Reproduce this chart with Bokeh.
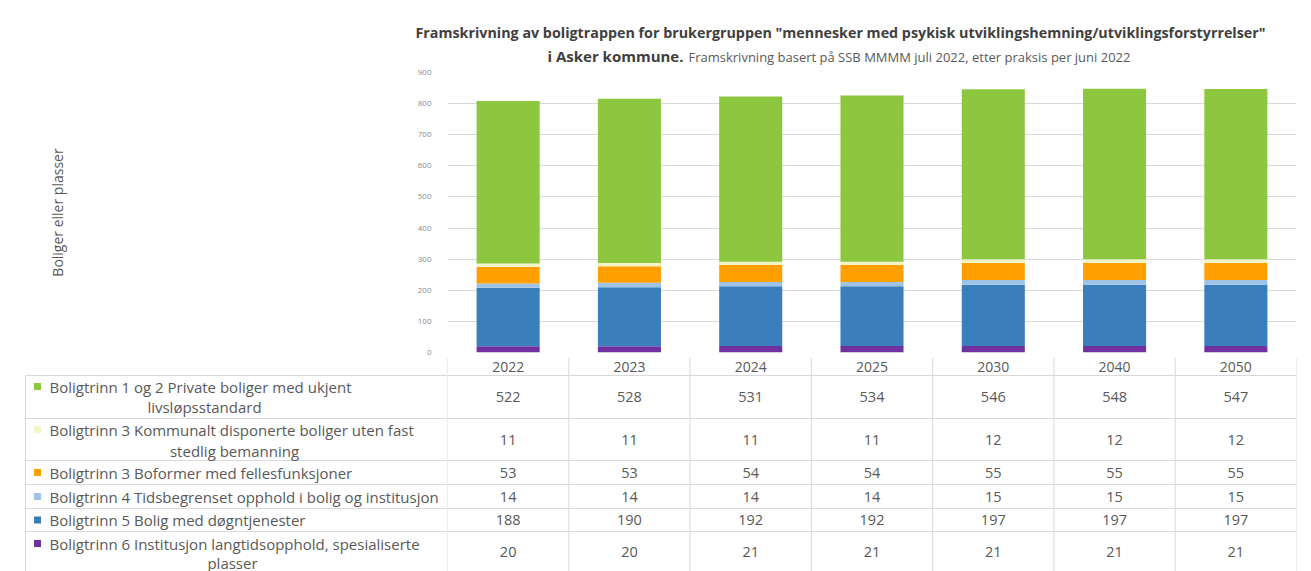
from bokeh.plotting import figure
from bokeh.layouts import column, row
from bokeh.models import FactorRange, Range1d, ColumnDataSource, SingleIntervalTicker
from bokeh.core.properties import value
from bokeh.embed import file_html
from bokeh.resources import INLINE

# ---------------- data ----------------
years = ["2022", "2023", "2024", "2025", "2030", "2040", "2050"]
trinn_1_2 = [522, 528, 531, 534, 546, 548, 547]
trinn_3_kommunalt = [11, 11, 11, 11, 12, 12, 12]
trinn_3_boformer = [53, 53, 54, 54, 55, 55, 55]
trinn_4 = [14, 14, 14, 14, 15, 15, 15]
trinn_5 = [188, 190, 192, 192, 197, 197, 197]
trinn_6 = [20, 20, 21, 21, 21, 21, 21]

series_names = [
    "Boligtrinn 1 og 2 Private boliger med ukjent\nlivsløpsstandard",
    "Boligtrinn 3 Kommunalt disponerte boliger uten fast\nstedlig bemanning",
    "Boligtrinn 3 Boformer med fellesfunksjoner",
    "Boligtrinn 4 Tidsbegrenset opphold i bolig og institusjon",
    "Boligtrinn 5 Bolig med døgntjenester",
    "Boligtrinn 6 Institusjon langtidsopphold, spesialiserte\nplasser",
]
series_values = [trinn_1_2, trinn_3_kommunalt, trinn_3_boformer, trinn_4, trinn_5, trinn_6]
series_colors = ["#8DC63F", "#F3F5C9", "#FFA000", "#9DC3E6", "#3A7EBB", "#7030A0"]

title_line1 = 'Framskrivning av boligtrappen for brukergruppen "mennesker med psykisk utviklingshemning/utviklingsforstyrrelser"'
title_line2_bold = "i Asker kommune."
title_line2_rest = "Framskrivning basert på SSB MMMM juli 2022, etter praksis per juni 2022"
y_label = "Boliger eller plasser"

# ---------------- style ----------------
FONT = "Open Sans"
TXT = "#595959"
GRID = "#d9d9d9"
W = 1303
LEFT = 447
RIGHT_PAD = 7

def bare(fig):
    fig.outline_line_color = None
    fig.grid.visible = False
    return fig

# ---------------- title strip ----------------
TH = 66
tfig = bare(figure(width=W, height=TH, x_range=Range1d(0, W), y_range=Range1d(TH, 0),
                   output_backend="svg", toolbar_location=None,
                   x_axis_location=None, y_axis_location=None, min_border=0))
tfig.text(x=[840], y=[32], text=[title_line1], text_align="center", text_baseline="middle",
          text_font=value(FONT), text_font_style="bold", text_font_size="14.3px",
          text_color="#404040")
tfig.text(x=[683], y=[55], text=[title_line2_bold], text_align="right", text_baseline="middle",
          text_font=value(FONT), text_font_style="bold", text_font_size="15px",
          text_color="#404040")
tfig.text(x=[688], y=[56], text=[title_line2_rest], text_align="left", text_baseline="middle",
          text_font=value(FONT), text_font_size="13px", text_color=TXT)

# ---------------- bar chart ----------------
keys = ["s%d" % i for i in range(len(series_values))]
src = ColumnDataSource(dict(years=years, **{k: v for k, v in zip(keys, series_values)}))

xr = FactorRange(*years, range_padding=0)
p = figure(width=W, height=291, x_range=xr, y_range=Range1d(0, 900),
           output_backend="svg", toolbar_location=None, x_axis_location=None,
           min_border_left=LEFT, min_border_right=RIGHT_PAD, min_border_top=6, min_border_bottom=5)
p.outline_line_color = None
p.xgrid.grid_line_color = None
p.ygrid.grid_line_color = GRID
p.ygrid.ticker = SingleIntervalTicker(interval=100, num_minor_ticks=0)
ax = p.yaxis[0]
ax.ticker = SingleIntervalTicker(interval=100, num_minor_ticks=0)
ax.axis_line_color = None
ax.major_tick_line_color = None
ax.minor_tick_line_color = None
ax.major_label_standoff = 10
ax.major_label_text_font = FONT
ax.major_label_text_font_size = "8px"
ax.major_label_text_color = "#8a8a8a"
ax.axis_label = y_label
ax.axis_label_standoff = 348
ax.axis_label_text_font = FONT
ax.axis_label_text_font_style = "normal"
ax.axis_label_text_font_size = "14px"
ax.axis_label_text_color = TXT

# stack bottom (trinn 6) to top (trinn 1 og 2)
p.vbar_stack(keys[::-1], x="years", width=0.52, source=src,
             fill_color=series_colors[::-1], line_color=None)

# ---------------- data table ----------------
row_heights = [18, 43, 42, 24, 24, 23, 40]
edges = [0]
for h in row_heights:
    edges.append(edges[-1] + h)
H = edges[-1]
row_centers = [(edges[i] + edges[i + 1]) / 2 for i in range(len(row_heights))]

# legend column
leg = bare(figure(width=LEFT, height=H, x_range=Range1d(0, LEFT), y_range=Range1d(H, 0),
                  output_backend="svg", toolbar_location=None,
                  x_axis_location=None, y_axis_location=None, min_border=0))
leg.segment(x0=25, x1=LEFT, y0=edges[1:], y1=edges[1:], line_color=GRID, line_width=1)
leg.segment(x0=25, x1=25, y0=edges[1], y1=H, line_color=GRID, line_width=1)

line1_y = [29, 72, 115, 139, 162.5, 186]
line2_y = [49, 93, None, None, None, 205]
line2_x = [204, 234, None, None, None, 232]
first_lines, l2_text, l2_x, l2_y = [], [], [], []
for i, name in enumerate(series_names):
    parts = name.split("\n")
    first_lines.append(parts[0])
    if len(parts) > 1:
        l2_text.append(parts[1]); l2_x.append(line2_x[i]); l2_y.append(line2_y[i])

leg.scatter(x=[37] * len(series_names), y=line1_y, marker="square", size=7,
            fill_color=series_colors, line_color=None)
leg.text(x=[49] * len(series_names), y=line1_y, text=first_lines,
         text_font=value(FONT), text_font_size="15px", text_color=TXT,
         text_baseline="middle", text_align="left")
leg.text(x=l2_x, y=l2_y, text=l2_text,
         text_font=value(FONT), text_font_size="15px", text_color=TXT,
         text_baseline="middle", text_align="center")

# values columns
vals = bare(figure(width=W - LEFT, height=H, x_range=xr, y_range=Range1d(H, 0),
                   output_backend="svg", toolbar_location=None,
                   x_axis_location=None, y_axis_location=None,
                   min_border=0, min_border_right=RIGHT_PAD))
vals.hspan(y=edges[1:], line_color=GRID, line_width=1)
bounds = [(y, -0.5) for y in years] + [(years[-1], 0.5)]
vals.segment(x0=bounds, x1=bounds, y0=0, y1=H, line_color=GRID, line_width=1)

vals.text(x=years, y=[row_centers[0]] * len(years), text=years,
          text_font=value(FONT), text_font_size="14px", text_color=TXT,
          text_baseline="middle", text_align="center")
for i, sv in enumerate(series_values):
    vals.text(x=years, y=[row_centers[i + 1]] * len(years), text=[str(v) for v in sv],
              text_font=value(FONT), text_font_size="14.5px", text_color=TXT,
              text_baseline="middle", text_align="center")

layout = column(row(tfig), p, row(leg, vals))
open("out.html", "w").write(file_html(layout, INLINE))
